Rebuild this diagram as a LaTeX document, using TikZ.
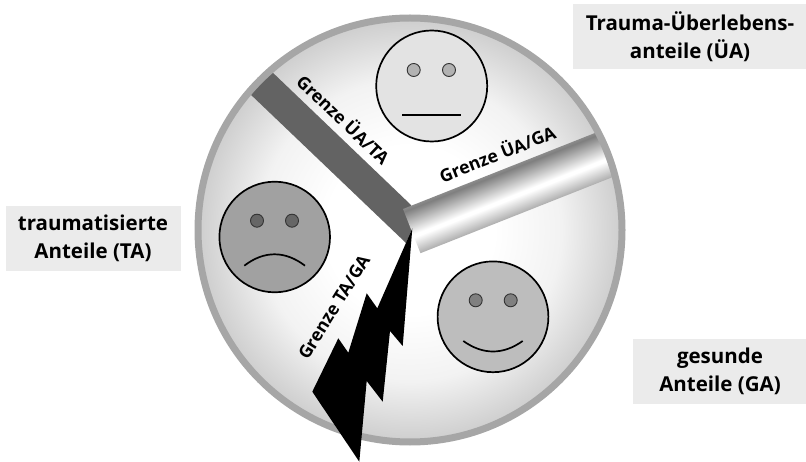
\documentclass[tikz,border=0pt]{standalone}
\usepackage{fontspec}
\setmainfont{Open Sans}
\pgfdeclareradialshading{discshade}{\pgfpoint{0bp}{0bp}}{color(0bp)=(white); color(10bp)=(white); color(18bp)=(black!5); color(25bp)=(black!19); color(50bp)=(black!19)}
\pgfdeclareverticalshading{barshade}{100bp}{color(0bp)=(black!32); color(25bp)=(black!32); color(43bp)=(white); color(46bp)=(white); color(72bp)=(black!50); color(75bp)=(black!46); color(100bp)=(black!46)}
\definecolor{labelbg}{gray}{0.92}
\definecolor{ringc}{gray}{0.65}
\definecolor{darkbar}{gray}{0.39}
\tikzset{
  face/.style={draw=black,line width=1.7pt},
  eye/.style={draw=black!80,line width=0.9pt},
  mouth/.style={draw=black,line width=1.7pt},
  labelbox/.style={draw=none,inner sep=0pt,align=center,font=\fontsize{20.5}{27.5}\selectfont\bfseries},
  bordertext/.style={font=\fontsize{17.6}{20}\selectfont\bfseries,inner sep=0pt}
}
\begin{document}
\begin{tikzpicture}[x=1pt,y=-1pt]
\useasboundingbox (0,0) rectangle (806,462);
% disc
\shade[shading=discshade] (410,230) circle[radius=210];
% boundaries, clipped to the disc
\begin{scope}
  \clip (410,230) circle[radius=209];
  \fill[darkbar] (270,70) -- (411,205) -- (412,229) -- (406,243) -- (248,92) -- cycle;
  \begin{scope}[transform canvas={shift={(403,209)},rotate=21.6}]
    \shade[shading=barshade] (0,0) rectangle (240,47.5);
  \end{scope}
\end{scope}
% ring
\draw[ringc,line width=7pt] (410,230) circle[radius=212];
% faces
\draw[face,fill=black!11] (431.7,86) circle[radius=55.5];
\draw[eye,fill=black!30] (413.7,70) circle[radius=6.5];
\draw[eye,fill=black!30] (449,70) circle[radius=6.5];
\draw[mouth] (402,115) -- (461,115);

\draw[face,fill=black!37] (274.7,237) circle[radius=55.3];
\draw[eye,fill=black!60] (257,220.7) circle[radius=6.5];
\draw[eye,fill=black!60] (292,220.7) circle[radius=6.5];
\draw[mouth] (244.3,265.7) .. controls (264,250.5) and (285,250.5) .. (305,265.7);

\draw[face,fill=black!26] (493,316.8) circle[radius=55.4];
\draw[eye,fill=black!50] (475.7,300.3) circle[radius=6.5];
\draw[eye,fill=black!50] (510.7,300.3) circle[radius=6.5];
\draw[mouth] (463.3,341) .. controls (483,355) and (503,355) .. (522.7,341);
% lightning
\fill[black] (412.3,228.5) -- (402.7,346) -- (390,331) -- (382.7,401.7) -- (366.7,381) -- (359.3,461.7) -- (312.3,391.7) -- (338.3,338.3) -- (348.3,352.7) -- (366.7,293.3) -- (377.3,308.3) -- cycle;
% boundary labels
\node[bordertext,rotate=-43.6] (lua) at (344,119) {Grenze ÜA/TA};
\node[bordertext,rotate=21.6] (lug) at (497,153) {Grenze ÜA/GA};
\node[bordertext,rotate=58] (ltg) at (334,307) {Grenze TA/GA};
% part labels
\fill[labelbg] (6,206) rectangle (181,271);
\node[labelbox] (ta) at (93,238.5) {traumatisierte\\Anteile (TA)};
\fill[labelbg] (573,4) rectangle (806,69);
\node[labelbox] (ua) at (690,36.5) {Trauma-Überlebens-\\anteile (ÜA)};
\fill[labelbg] (633,339) rectangle (806,404);
\node[labelbox] (ga) at (720,371.5) {gesunde\\Anteile (GA)};
\end{tikzpicture}
\end{document}
